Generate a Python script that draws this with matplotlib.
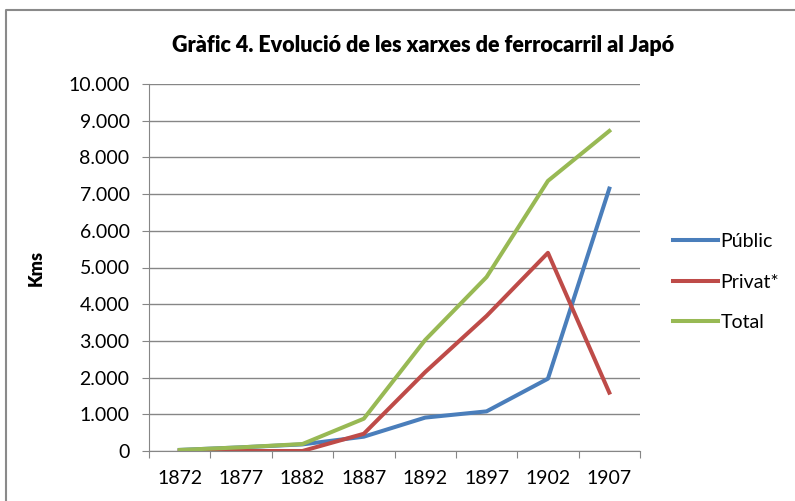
import matplotlib
matplotlib.use('Agg')
import matplotlib.pyplot as plt
from matplotlib.lines import Line2D
from matplotlib.ticker import FixedLocator, FuncFormatter

years = ['1872', '1877', '1882', '1887', '1892', '1897', '1902', '1907']
public = [29, 100, 180, 390, 910, 1080, 1970, 7150]
private = [0, 0, 0, 470, 2150, 3680, 5400, 1590]
total = [29, 100, 190, 880, 3025, 4740, 7360, 8720]

plt.rcParams['font.family'] = ['Lato', 'DejaVu Sans']

W, H = 795, 501
fig = plt.figure(figsize=(W / 100, H / 100), dpi=100)

# chart frame (only top and left edges visible in the crop)
fig.lines.append(Line2D([6 / W, 6 / W, 1], [0, 1 - 10 / H, 1 - 10 / H],
                        transform=fig.transFigure, color='#8a8a8a', lw=1.5))

ax = fig.add_axes([149 / W, 50 / H, 491 / W, 367 / H])
x = list(range(len(years)))
ax.plot(x, public, color='#4A7EBB', lw=2.9, label='Públic', solid_joinstyle='round')
ax.plot(x, private, color='#BE4B48', lw=2.9, label='Privat*', solid_joinstyle='round')
ax.plot(x, total, color='#98B954', lw=2.9, label='Total', solid_joinstyle='round')

ax.set_xlim(-0.5, len(years) - 0.5)
ax.set_ylim(0, 10000)
ax.set_yticks(range(0, 10001, 1000))
ax.yaxis.set_major_formatter(FuncFormatter(lambda v, p: f'{int(v):,}'.replace(',', '.')))
ax.xaxis.set_major_locator(FixedLocator([i - 0.5 for i in range(len(years) + 1)]))
ax.xaxis.set_minor_locator(FixedLocator(x))
ax.set_xticklabels([])
ax.set_xticklabels(years, minor=True)
ax.tick_params(axis='x', which='major', length=5, color='#868686')
ax.tick_params(axis='x', which='minor', length=0, pad=14, labelsize=14)
ax.tick_params(axis='y', length=5, color='#868686', labelsize=14, pad=9)

ax.grid(axis='y', color='#868686', lw=1)
ax.set_axisbelow(True)
for s in ['top', 'right']:
    ax.spines[s].set_visible(False)
for s in ['left', 'bottom']:
    ax.spines[s].set_color('#868686')

ax.set_ylabel('Kms', fontsize=13, fontweight='heavy')
ax.yaxis.set_label_coords((45 - 149) / 491, 0.5)
fig.text(423 / W, 1 - 46 / H, 'Gràfic 4. Evolució de les xarxes de ferrocarril al Japó',
         ha='center', va='center', fontsize=15.5, fontweight='heavy')

ax.legend(loc='center left', bbox_to_anchor=(673 / W, 1 - 282 / H),
          bbox_transform=fig.transFigure, frameon=False, fontsize=14,
          borderpad=0, borderaxespad=0,
          handlelength=2.3, handletextpad=0.15, labelspacing=1.2)

fig.savefig('out.png', dpi=100)
